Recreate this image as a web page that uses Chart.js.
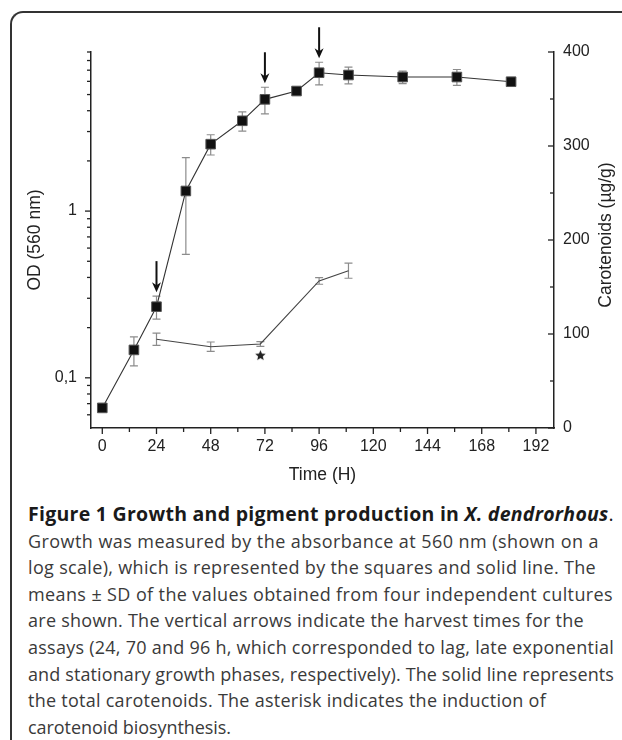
<!DOCTYPE html>
<html>
<head>
<meta charset="utf-8">
<script src="https://cdn.jsdelivr.net/npm/chart.js@4.4.1/dist/chart.umd.min.js"></script>
<style>
  html, body { margin: 0; padding: 0; background: #fff; }
  body { width: 622px; height: 740px; position: relative; overflow: hidden; }
  #frame { position: absolute; left: 10px; top: 11px; width: 700px; height: 800px;
           border-left: 2px solid #333; border-top: 2px solid #333; border-top-left-radius: 13px; }
  #wrap { position: absolute; left: 0; top: 0; width: 622px; height: 495px; }
  #caption { position: absolute; left: 28px; top: 501px; font-family: "Open Sans", sans-serif;
             font-size: 18px; line-height: 26.6px; color: #3a3a3a; white-space: nowrap; }
  #caption div { width: max-content; }
  #caption .t { color: #1a1a1a; font-weight: bold; font-size: 19.5px; }
</style>
</head>
<body>
<div id="frame"></div>
<div id="wrap"><canvas id="chart-1" width="622" height="495"></canvas></div>
<div id="caption">
  <div class="t">Figure 1 Growth and pigment production in <i>X. dendrorhous</i><span style="font-weight:normal">.</span></div>
  <div>Growth was measured by the absorbance at 560 nm (shown on a</div>
  <div>log scale), which is represented by the squares and solid line. The</div>
  <div>means ± SD of the values obtained from four independent cultures</div>
  <div>are shown. The vertical arrows indicate the harvest times for the</div>
  <div>assays (24, 70 and 96 h, which corresponded to lag, late exponential</div>
  <div>and stationary growth phases, respectively). The solid line represents</div>
  <div>the total carotenoids. The asterisk indicates the induction of</div>
  <div>carotenoid biosynthesis.</div>
</div>
<script>
// growth (OD 560 nm, log scale)
const odTime = [0, 14, 24, 37, 48, 62, 72, 86, 96, 109, 133, 157, 181];
const odValue = [0.066, 0.147, 0.267, 1.32, 2.52, 3.48, 4.68, 5.25, 6.76, 6.55, 6.37, 6.37, 5.97];
const odSD = [0, 0.029, 0.042, 0.77, 0.35, 0.46, 0.85, 0.15, 1.05, 0.75, 0.55, 0.7, 0.2];

// total carotenoids (ug/g)
const carTime = [24, 48, 70, 96, 109];
const carValue = [94.4, 86.5, 89.4, 156.4, 167.3];
const carSD = [6.5, 5, 2.5, 3.5, 8];

// asterisk = induction of carotenoid biosynthesis
const inductionTime = [70];
const inductionValue = [77];

// harvest arrows
const harvestTimes = [24, 72, 96];

// ticks
const timeTicks = [0, 24, 48, 72, 96, 120, 144, 168, 192];
const timeMinor = [12, 36, 60, 84, 108, 132, 156, 180];
const odTicks = [0.1, 1];
const odTickLabels = ["0,1", "1"];
const odMinor = [0.06, 0.07, 0.08, 0.09, 0.2, 0.3, 0.4, 0.5, 0.6, 0.7, 0.8, 0.9, 2, 3, 4, 5, 6, 7, 8, 9];
const carTicks = [0, 100, 200, 300, 400];
const carMinor = [50, 150, 250, 350];

// right edge of each caption line in the figure
const captionLineEnds = [614, 599, 596, 613, 584, 614, 614, 546, 231];
document.querySelectorAll("#caption > div").forEach((d, i) => {
  const w = d.getBoundingClientRect().width;
  const n = d.textContent.length;
  d.style.letterSpacing = ((captionLineEnds[i] - 28 - w) / n).toFixed(3) + "px";
});

const fontFamily = "'Liberation Sans', Arial, sans-serif";
const axisFont = { family: fontFamily, size: 16 };
const titleFont = { family: fontFamily, size: 17.5 };

function starImage(r, color) {
  const c = document.createElement("canvas");
  c.width = c.height = 2 * r + 2;
  const g = c.getContext("2d");
  g.fillStyle = color;
  g.beginPath();
  for (let i = 0; i < 10; i++) {
    const rad = i % 2 ? r * 0.45 : r;
    const ang = -Math.PI / 2 + i * Math.PI / 5;
    g.lineTo(r + 1 + rad * Math.cos(ang), r + 1 + rad * Math.sin(ang));
  }
  g.closePath();
  g.fill();
  return c;
}

const errorBars = {
  id: "errorBars",
  beforeDatasetsDraw(chart) {
    const ctx = chart.ctx;
    ctx.save();
    ctx.strokeStyle = "#8c8c8c";
    ctx.lineWidth = 1.2;
    chart.data.datasets.forEach((ds, i) => {
      if (!ds.sd) return;
      const meta = chart.getDatasetMeta(i);
      const ys = chart.scales[ds.yAxisID];
      meta.data.forEach((pt, j) => {
        const sd = ds.sd[j];
        if (!sd) return;
        const v = ds.data[j].y;
        const top = ys.getPixelForValue(v + sd);
        const bot = ys.getPixelForValue(v - sd);
        const x = pt.x;
        ctx.beginPath();
        ctx.moveTo(x, top); ctx.lineTo(x, bot);
        ctx.moveTo(x - 4, top); ctx.lineTo(x + 4, top);
        ctx.moveTo(x - 4, bot); ctx.lineTo(x + 4, bot);
        ctx.stroke();
      });
    });
    ctx.restore();
  }
};

const tickMarks = {
  id: "tickMarks",
  afterDraw(chart) {
    const { ctx, chartArea: a, scales } = chart;
    ctx.save();
    ctx.strokeStyle = "#222";
    ctx.lineWidth = 1.3;
    const line = (x1, y1, x2, y2) => { ctx.beginPath(); ctx.moveTo(x1, y1); ctx.lineTo(x2, y2); ctx.stroke(); };
    timeTicks.forEach(v => { const x = scales.x.getPixelForValue(v); line(x, a.bottom, x, a.bottom + 6); });
    timeMinor.forEach(v => { const x = scales.x.getPixelForValue(v); line(x, a.bottom, x, a.bottom + 4); });
    odTicks.forEach(v => { const y = scales.y.getPixelForValue(v); line(a.left - 6, y, a.left, y); });
    odMinor.forEach(v => { const y = scales.y.getPixelForValue(v); line(a.left - 4, y, a.left, y); });
    carTicks.forEach(v => { const y = scales.y1.getPixelForValue(v); line(a.right - 6, y, a.right, y); });
    carMinor.forEach(v => { const y = scales.y1.getPixelForValue(v); line(a.right - 4, y, a.right, y); });

    // harvest arrows above the OD points
    ctx.strokeStyle = "#111";
    ctx.fillStyle = "#111";
    ctx.lineWidth = 2;
    harvestTimes.forEach(t => {
      const j = odTime.indexOf(t);
      const x = scales.x.getPixelForValue(t);
      const tip = scales.y.getPixelForValue(odValue[j] + odSD[j]) - 4;
      const tail = tip - 31;
      line(x, tail, x, tip - 6);
      ctx.beginPath();
      ctx.moveTo(x, tip);
      ctx.lineTo(x - 4.5, tip - 10);
      ctx.lineTo(x, tip - 7);
      ctx.lineTo(x + 4.5, tip - 10);
      ctx.closePath();
      ctx.fill();
    });

    // right axis title, reading bottom to top
    ctx.fillStyle = "#222";
    ctx.font = titleFont.size + "px " + fontFamily;
    ctx.textAlign = "center";
    ctx.textBaseline = "middle";
    ctx.translate(606, (a.top + a.bottom) / 2 - 5);
    ctx.rotate(-Math.PI / 2);
    ctx.fillText("Carotenoids (µg/g)", 0, 0);
    ctx.restore();
  }
};

const ctx1 = document.getElementById("chart-1");

const mychart = new Chart(ctx1, {
  type: "scatter",
  data: {
    datasets: [
      {
        label: "Carotenoids",
        data: carTime.map((t, i) => ({ x: t, y: carValue[i] })),
        sd: carSD,
        yAxisID: "y1",
        showLine: true,
        borderColor: "#444",
        borderWidth: 1.1,
        pointRadius: 0,
      },
      {
        label: "Induction",
        data: inductionTime.map((t, i) => ({ x: t, y: inductionValue[i] })),
        yAxisID: "y1",
        pointStyle: starImage(5.5, "#222"),
      },
      {
        label: "OD",
        data: odTime.map((t, i) => ({ x: t, y: odValue[i] })),
        sd: odSD,
        yAxisID: "y",
        showLine: true,
        borderColor: "#333",
        borderWidth: 1.1,
        pointStyle: "rect",
        pointRadius: 6.8,
        pointBackgroundColor: "#111",
        pointBorderColor: "#555",
        pointBorderWidth: 1,
      },
    ],
  },
  options: {
    responsive: false,
    animation: false,
    devicePixelRatio: 1,
    layout: { padding: { left: 0, right: 0, top: 52, bottom: 0 } },
    plugins: { legend: { display: false }, tooltip: { enabled: false } },
    scales: {
      x: {
        type: "linear",
        min: -5,
        max: 200,
        afterBuildTicks: s => { s.ticks = timeTicks.map(v => ({ value: v })); },
        afterFit: s => { s.height = 67; },
        grid: { display: true, drawOnChartArea: false, drawTicks: false },
        border: { display: true, color: "#222", width: 1.5 },
        ticks: { font: axisFont, color: "#222", padding: 9, maxRotation: 0, autoSkip: false },
        title: { display: true, text: "Time (H)", font: titleFont, color: "#222", padding: { top: 0, bottom: 9 } },
      },
      y: {
        type: "logarithmic",
        position: "left",
        min: 0.05,
        max: 9,
        afterBuildTicks: s => { s.ticks = odTicks.map(v => ({ value: v })); },
        afterFit: s => { s.width = 91; },
        grid: { display: true, drawOnChartArea: false, drawTicks: false },
        border: { display: true, color: "#222", width: 1.5 },
        ticks: {
          font: axisFont, color: "#222", padding: 14, autoSkip: false,
          callback: v => odTickLabels[odTicks.indexOf(v)],
        },
        title: { display: true, text: "OD (560 nm)", font: titleFont, color: "#222", padding: { top: 25, bottom: 0 } },
      },
      y1: {
        type: "linear",
        position: "right",
        min: 0,
        max: 400,
        afterBuildTicks: s => { s.ticks = carTicks.map(v => ({ value: v })); },
        afterFit: s => { s.width = 68; },
        grid: { display: true, drawOnChartArea: false, drawTicks: false },
        border: { display: true, color: "#222", width: 1.5 },
        ticks: { font: axisFont, color: "#222", padding: 9, autoSkip: false },
        title: { display: false },
      },
    },
  },
  plugins: [errorBars, tickMarks],
});
</script>
</body>
</html>
